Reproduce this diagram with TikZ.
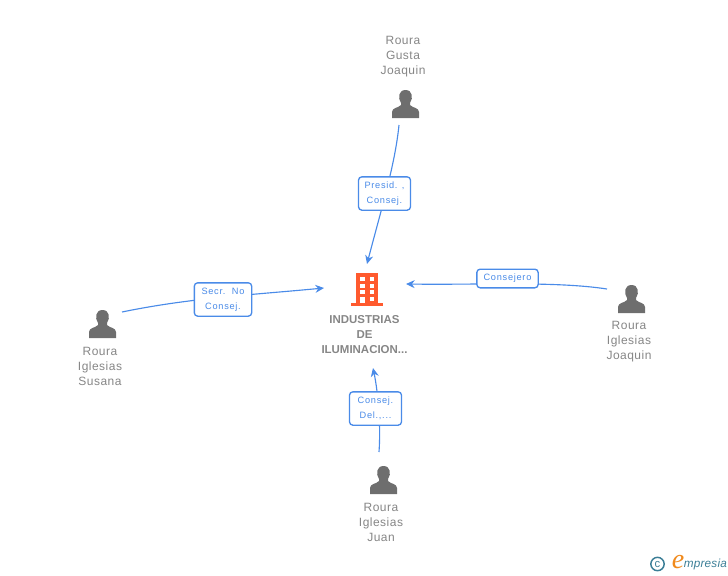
\documentclass[tikz,border=0pt]{standalone}
\usepackage{fontspec}
\usetikzlibrary{arrows.meta}
\setmainfont{Liberation Sans}
\newfontfamily\namefont[LetterSpace=4]{Liberation Sans}
\newfontfamily\linkfont[LetterSpace=8]{Liberation Sans}
\newfontfamily\logofont{Liberation Serif}
\newfontfamily\logotextfont[LetterSpace=2]{Liberation Sans}
\definecolor{linkblue}{HTML}{4A8BE8}
\definecolor{namegray}{HTML}{868686}
\definecolor{icongray}{HTML}{6E6E6E}
\definecolor{buildred}{HTML}{FF5A2E}
\definecolor{logoteal}{HTML}{3B7E96}
\definecolor{logoorange}{HTML}{F08A1D}
\tikzset{
  namelabel/.style={text=namegray, align=center, font=\namefont\fontsize{9}{11.25}\selectfont},
  linklabel/.style={draw=linkblue, fill=white, rounded corners=2.5pt, line width=1pt, text=linkblue, align=center, inner sep=0pt, font=\linkfont\fontsize{6.9}{11.6}\selectfont},
  linkline/.style={->, >={Stealth[length=6.5pt,width=6pt]}, linkblue, line width=0.85pt},
  person/.pic={
    \fill [icongray] (-13.5,14) -- (-13.5,8) .. controls (-13.5,3.5) and (-7,4) .. (-4.5,1)
      -- (-4.5,-1) .. controls (-8,-6) and (-7,-14) .. (0,-14)
      .. controls (7,-14) and (8,-6) .. (4.5,-1) -- (4.5,1)
      .. controls (7,4) and (13.5,3.5) .. (13.5,8) -- (13.5,14) -- cycle;
  }
}
\begin{document}
\begin{tikzpicture}[x=0.75pt,y=-0.75pt]
  \useasboundingbox (0,0) rectangle (728,575);

  % people
  \pic at (405.5,104) {person};
  \pic at (102.5,324) {person};
  \pic at (631.5,299) {person};
  \pic at (383.5,480) {person};

  \node [namelabel] (gusta) at (403,57) {Roura\\Gusta\\Joaquin};
  \node [namelabel] (susana) at (100,366) {Roura\\Iglesias\\Susana};
  \node [namelabel] (joaquin) at (629,342) {Roura\\Iglesias\\Joaquin};
  \node [namelabel] (juan) at (381,522) {Roura\\Iglesias\\Juan};

  % building
  \fill [buildred] (356,273) rectangle (378,303);
  \fill [buildred] (351,303) rectangle (383,306);
  \foreach \y in {277,283.5,290} {
    \fill [white] (360,\y) rectangle (364.5,\y+4);
    \fill [white] (369.5,\y) rectangle (374,\y+4);
  }
  \fill [white] (360,296.5) rectangle (364.5,303);
  \fill [white] (369.5,296.5) rectangle (374,300.5);
  \node [namelabel, font=\bfseries\fontsize{8.6}{11.25}\selectfont] (company) at (364.5,334.5) {INDUSTRIAS\\DE\\ILUMINACION...};

  % ends of the links
  \coordinate (gustaend) at (399,125);
  \coordinate (gustatip) at (367,264);
  \coordinate (susanaend) at (122,312);
  \coordinate (susanatip) at (324,288);
  \coordinate (joaquinend) at (607,289);
  \coordinate (joaquintip) at (406,284);
  \coordinate (juanend) at (379,452);
  \coordinate (juantip) at (373,368);

  \draw [linkline] (gustaend) .. controls (395,165) and (381,210) .. (gustatip);
  \draw [linkline] (susanaend) .. controls (190,298) and (250,295) .. (susanatip);
  \draw [linkline] (joaquinend) .. controls (555,281) and (480,285) .. (joaquintip);
  \draw [linkline] (juanend) .. controls (381,425) and (378,392) .. (juantip);

  \node [linklabel, minimum width=39pt, minimum height=25pt] (presid) at (384.5,193.5) {Presid. ,\\Consej.};
  \node [linklabel, minimum width=43pt, minimum height=25pt] (secr) at (223,299.5) {Secr.\ \ No\\Consej.};
  \node [linklabel, minimum width=46pt, minimum height=14pt] (consejero) at (507.5,278.5) {Consejero};
  \node [linklabel, minimum width=39pt, minimum height=25pt] (del) at (375.5,408.5) {Consej.\\Del.,...};

  % logo
  \node [draw=logoteal, circle, line width=1.1pt, inner sep=0pt, minimum size=10pt, text=logoteal, font=\fontsize{8.5}{8.5}\selectfont] (copy) at (657.5,564) {c};
  \node [text=logoorange, inner sep=0pt, font=\logofont\itshape\fontsize{21}{21}\selectfont] (logoe) at (678,562) {e};
  \node [anchor=west, text=logoteal, inner sep=0pt, font=\logotextfont\itshape\fontsize{8.8}{10}\selectfont] (logotext) at (683.5,564) {mpresia};
\end{tikzpicture}
\end{document}
